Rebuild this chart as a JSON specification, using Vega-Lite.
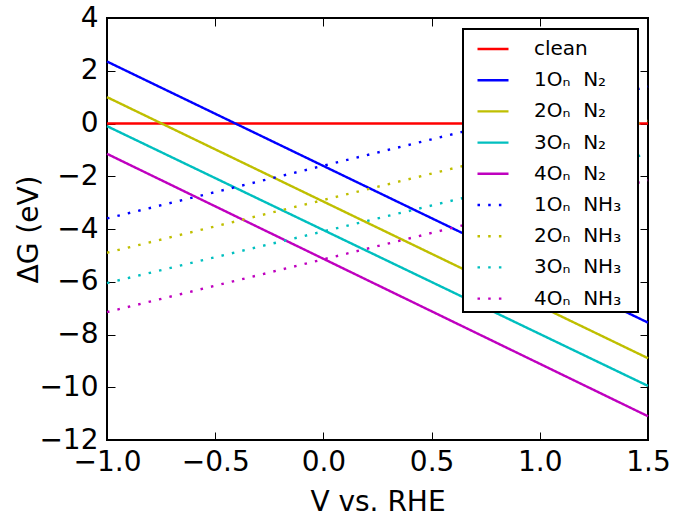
{
  "$schema": "https://vega.github.io/schema/vega-lite/v6.json",
  "width": 541,
  "height": 422,
  "autosize": {"type": "none"},
  "padding": {"left": 107, "top": 18, "right": 29, "bottom": 80},
  "background": "white",
  "config": {
    "font": "DejaVu Sans",
    "view": {"stroke": "black", "strokeWidth": 2},
    "axis": {
      "grid": false,
      "domain": false,
      "labelFont": "DejaVu Sans",
      "titleFont": "DejaVu Sans",
      "labelFontSize": 28,
      "titleFontSize": 28,
      "titleFontWeight": "normal",
      "labelColor": "black",
      "titleColor": "black",
      "tickColor": "black",
      "tickSize": -8,
      "tickWidth": 1,
      "labelFlush": false,
      "labelOverlap": false
    },
    "legend": {
      "orient": "none",
      "legendX": 356,
      "legendY": 11,
      "symbolType": "stroke",
      "symbolSize": 961,
      "symbolStrokeWidth": 2.4,
      "labelFont": "DejaVu Sans",
      "labelFontSize": 20,
      "labelColor": "black",
      "labelLimit": 0,
      "padding": 3,
      "rowPadding": 4.2,
      "symbolOffset": 10,
      "labelOffset": 24,
      "strokeColor": "black",
      "strokeWidth": 2,
      "fillColor": "white",
      "titleOrient": "right",
      "titleFontSize": 4,
      "titleOpacity": 0,
      "titlePadding": 12
    }
  },
  "data": {
    "values": [
      {"series": "clean", "x": -1, "y": 0},
      {"series": "clean", "x": 1.5, "y": 0},
      {"series": "1O\u2099\u00a0\u00a0N\u2082", "x": -1, "y": 2.35},
      {"series": "1O\u2099\u00a0\u00a0N\u2082", "x": 1.5, "y": -7.55},
      {"series": "2O\u2099\u00a0\u00a0N\u2082", "x": -1, "y": 1.0},
      {"series": "2O\u2099\u00a0\u00a0N\u2082", "x": 1.5, "y": -8.9},
      {"series": "3O\u2099\u00a0\u00a0N\u2082", "x": -1, "y": -0.1},
      {"series": "3O\u2099\u00a0\u00a0N\u2082", "x": 1.5, "y": -9.95},
      {"series": "4O\u2099\u00a0\u00a0N\u2082", "x": -1, "y": -1.15},
      {"series": "4O\u2099\u00a0\u00a0N\u2082", "x": 1.5, "y": -11.1},
      {"series": "1O\u2099\u00a0\u00a0NH\u2083", "x": -1, "y": -3.6},
      {"series": "1O\u2099\u00a0\u00a0NH\u2083", "x": 1.5, "y": 1.4},
      {"series": "2O\u2099\u00a0\u00a0NH\u2083", "x": -1, "y": -4.9},
      {"series": "2O\u2099\u00a0\u00a0NH\u2083", "x": 1.5, "y": 0.1},
      {"series": "3O\u2099\u00a0\u00a0NH\u2083", "x": -1, "y": -6.05},
      {"series": "3O\u2099\u00a0\u00a0NH\u2083", "x": 1.5, "y": -1.15},
      {"series": "4O\u2099\u00a0\u00a0NH\u2083", "x": -1, "y": -7.15},
      {"series": "4O\u2099\u00a0\u00a0NH\u2083", "x": 1.5, "y": -2.15}
    ]
  },
  "layer": [
    {
      "mark": {"type": "line", "strokeWidth": 2.4, "strokeCap": "butt"},
      "encoding": {
        "x": {
          "field": "x",
          "type": "quantitative",
          "scale": {"domain": [-1, 1.5], "nice": false, "zero": false},
          "axis": {
            "orient": "bottom",
            "values": [-1, -0.5, 0, 0.5, 1, 1.5],
            "format": ".1f",
            "labelPadding": 16,
            "title": "V vs. RHE",
            "titleY": 70,
            "titleBaseline": "alphabetic"
          }
        },
        "y": {
          "field": "y",
          "type": "quantitative",
          "scale": {"domain": [-12, 4], "nice": false, "zero": false},
          "axis": {
            "orient": "left",
            "values": [-12, -10, -8, -6, -4, -2, 0, 2, 4],
            "format": "d",
            "labelPadding": 17,
            "title": "\u0394G (eV)",
            "titleX": -78,
            "titleY": 211,
            "titleBaseline": "middle"
          }
        },
        "color": {
          "field": "series",
          "type": "nominal",
          "sort": null,
          "scale": {
            "domain": ["clean", "1O\u2099\u00a0\u00a0N\u2082", "2O\u2099\u00a0\u00a0N\u2082", "3O\u2099\u00a0\u00a0N\u2082", "4O\u2099\u00a0\u00a0N\u2082", "1O\u2099\u00a0\u00a0NH\u2083", "2O\u2099\u00a0\u00a0NH\u2083", "3O\u2099\u00a0\u00a0NH\u2083", "4O\u2099\u00a0\u00a0NH\u2083"],
            "range": ["#ff0000", "#0000ff", "#bfbf00", "#00bfbf", "#bf00bf", "#0000ff", "#bfbf00", "#00bfbf", "#bf00bf"]
          },
          "legend": {"title": "."}
        },
        "strokeDash": {
          "field": "series",
          "type": "nominal",
          "sort": null,
          "scale": {
            "domain": ["clean", "1O\u2099\u00a0\u00a0N\u2082", "2O\u2099\u00a0\u00a0N\u2082", "3O\u2099\u00a0\u00a0N\u2082", "4O\u2099\u00a0\u00a0N\u2082", "1O\u2099\u00a0\u00a0NH\u2083", "2O\u2099\u00a0\u00a0NH\u2083", "3O\u2099\u00a0\u00a0NH\u2083", "4O\u2099\u00a0\u00a0NH\u2083"],
            "range": [[1, 0], [1, 0], [1, 0], [1, 0], [1, 0], [2.5, 8.2], [2.5, 8.2], [2.5, 8.2], [2.5, 8.2]]
          },
          "legend": {"title": "."}
        }
      }
    },
    {
      "mark": {"type": "point", "opacity": 0},
      "encoding": {
        "x": {
          "field": "x",
          "type": "quantitative",
          "axis": {"orient": "top", "labels": false, "title": null, "values": [-1, -0.5, 0, 0.5, 1, 1.5]}
        },
        "y": {
          "field": "y",
          "type": "quantitative",
          "axis": {"orient": "right", "labels": false, "title": null, "values": [-12, -10, -8, -6, -4, -2, 0, 2, 4]}
        }
      }
    }
  ],
  "resolve": {"axis": {"x": "independent", "y": "independent"}}
}
